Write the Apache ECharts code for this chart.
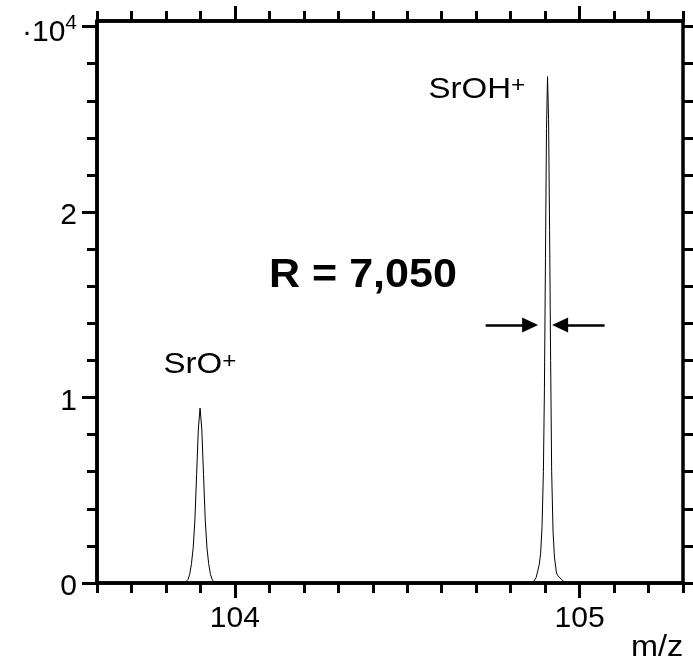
<!DOCTYPE html>
<html>
<head>
<meta charset="utf-8">
<title>SrO+ / SrOH+ mass spectrum</title>
<script src="https://cdn.jsdelivr.net/npm/echarts@6/dist/echarts.min.js"></script>
<style>
html, body { margin: 0; padding: 0; background: #fff; }
#main { width: 693px; height: 664px; }
</style>
</head>
<body>
<div id="main"></div>
<script>
// m/z range and ticks
var xMin = 103.6;
var xMax = 105.3;
var xMajorTicks = [104, 105];
var yMax = 3.03;                       // intensity in units of 10^4
var yMajorTicks = [0, 1, 2, 3];
var yMinorTicks = [0, 0.2, 0.4, 0.6, 0.8, 1, 1.2, 1.4, 1.6, 1.8, 2, 2.2, 2.4, 2.6, 2.8, 3];

// SrO+ peak
var sroMz  = [103.854, 103.859, 103.864, 103.869, 103.874, 103.879, 103.884, 103.889, 103.894, 103.899,
              103.904, 103.909, 103.914, 103.919, 103.924, 103.929, 103.934, 103.939, 103.944];
var sroInt = [0, 0.005, 0.019, 0.047, 0.104, 0.189, 0.34, 0.585, 0.83, 0.943,
              0.83, 0.585, 0.34, 0.189, 0.104, 0.047, 0.019, 0.005, 0];

// SrOH+ peak
var srohMz  = [104.864, 104.869, 104.874, 104.878, 104.883, 104.887, 104.891, 104.895, 104.898, 104.901,
               104.904, 104.907, 104.910, 104.913, 104.916, 104.919, 104.923, 104.927, 104.933, 104.937,
               104.942, 104.947, 104.952, 104.957, 104.962];
var srohInt = [0, 0.01, 0.03, 0.06, 0.1, 0.16, 0.3, 0.6, 1.05, 1.75,
               2.45, 2.73, 2.5, 1.9, 1.2, 0.6, 0.28, 0.14, 0.054, 0.04,
               0.03, 0.02, 0.01, 0.003, 0];

// FWHM arrows (m/z of tail and head, height in 10^4)
var arrowY = 1.391;
var leftArrow = [104.7275, 104.8565];
var rightArrow = [105.0725, 104.9435];

var FONT = '"Liberation Sans", Arial, Helvetica, sans-serif';

// build spectrum
var spectrum = [[xMin, 0]];
for (var i = 0; i < sroMz.length; i++) spectrum.push([sroMz[i], sroInt[i]]);
for (var j = 0; j < srohMz.length; j++) spectrum.push([srohMz[j], srohInt[j]]);
spectrum.push([xMax, 0]);

var lineSt = {show: true, onZero: false, lineStyle: {color: '#000', width: 3.5}};
var tickSt = {color: '#000', width: 3};

function xAxisDef(pos, major, label) {
    return {
        type: 'value', position: pos, min: xMin, max: xMax, interval: 0.1,
        axisLine: lineSt,
        axisTick: major ? {show: true, inside: false, length: 15, customValues: xMajorTicks, lineStyle: tickSt}
                        : {show: true, inside: false, length: 10, lineStyle: tickSt},
        axisLabel: label ? {show: true, customValues: xMajorTicks, margin: 21, fontSize: 30, fontFamily: FONT, color: '#000',
                            formatter: function (v) { return String(v); }}
                         : {show: false},
        splitLine: {show: false}
    };
}

function yAxisDef(pos, major, label, len) {
    return {
        type: 'value', position: pos, min: 0, max: yMax,
        axisLine: lineSt,
        axisTick: {show: true, inside: false, length: len, customValues: major ? yMajorTicks : yMinorTicks, lineStyle: tickSt},
        axisLabel: label ? {
            show: true, customValues: yMajorTicks, margin: 20, fontSize: 30, fontFamily: FONT, color: '#000',
            padding: [8, 0, 0, 0],
            formatter: function (v) { return v === 3 ? '{m|\u00b710}{s|4}' : String(v); },
            rich: {
                m: {fontSize: 30, fontFamily: FONT, color: '#000', padding: [4, 0, 0, 0], verticalAlign: 'middle'},
                s: {fontSize: 21, fontFamily: FONT, color: '#000', padding: [0, 0, 15, 0], verticalAlign: 'middle'}
            }
        } : {show: false},
        splitLine: {show: false}
    };
}

var myChart = echarts.init(document.getElementById('main'));

var option = {
    animation: false,
    backgroundColor: '#fff',
    grid: {left: 97, right: 10, top: 21, bottom: 81, containLabel: false},
    xAxis: [
        xAxisDef('bottom', true, true),
        xAxisDef('bottom', false, false),
        xAxisDef('top', true, false),
        xAxisDef('top', false, false)
    ],
    yAxis: [
        yAxisDef('left', true, true, 15),
        yAxisDef('left', false, false, 10),
        yAxisDef('right', false, false, 10)
    ],
    series: [
        {
            type: 'line',
            xAxisIndex: 0,
            yAxisIndex: 0,
            data: spectrum,
            showSymbol: false,
            smooth: false,
            lineStyle: {color: '#000', width: 1},
            markLine: {
                silent: true,
                animation: false,
                symbol: ['none', 'triangle'],
                symbolSize: [15, 16],
                label: {show: false},
                lineStyle: {color: '#000', width: 2.5, type: 'solid'},
                emphasis: {disabled: true},
                data: [
                    [{coord: [leftArrow[0], arrowY]}, {coord: [leftArrow[1], arrowY]}],
                    [{coord: [rightArrow[0], arrowY]}, {coord: [rightArrow[1], arrowY]}]
                ]
            }
        }
    ],
    graphic: [
        {
            type: 'text', x: 163.5, y: 365, scaleX: 1.1,
            style: {
                text: '{a|SrO}{b|+}', align: 'left', verticalAlign: 'middle',
                rich: {
                    a: {fontSize: 30, fontFamily: FONT, fill: '#000', verticalAlign: 'middle'},
                    b: {fontSize: 22, fontFamily: FONT, fill: '#000', padding: [0, 0, 6, 0], verticalAlign: 'middle'}
                }
            }
        },
        {
            type: 'text', x: 428.5, y: 90, scaleX: 1.1,
            style: {
                text: '{a|SrOH}{b|+}', align: 'left', verticalAlign: 'middle',
                rich: {
                    a: {fontSize: 30, fontFamily: FONT, fill: '#000', verticalAlign: 'middle'},
                    b: {fontSize: 22, fontFamily: FONT, fill: '#000', padding: [0, 0, 8, 0], verticalAlign: 'middle'}
                }
            }
        },
        {
            type: 'text', x: 269, y: 276, scaleX: 1.05,
            style: {text: 'R = 7,050', fontSize: 41, fontWeight: 'bold', fontFamily: FONT, fill: '#000', align: 'left', verticalAlign: 'middle'}
        },
        {
            type: 'text', x: 631, y: 647.5, scaleX: 1.08,
            style: {text: 'm/z', fontSize: 30, fontFamily: FONT, fill: '#000', align: 'left', verticalAlign: 'middle'}
        }
    ]
};

myChart.setOption(option);    //载入图表
</script>
</body>
</html>
